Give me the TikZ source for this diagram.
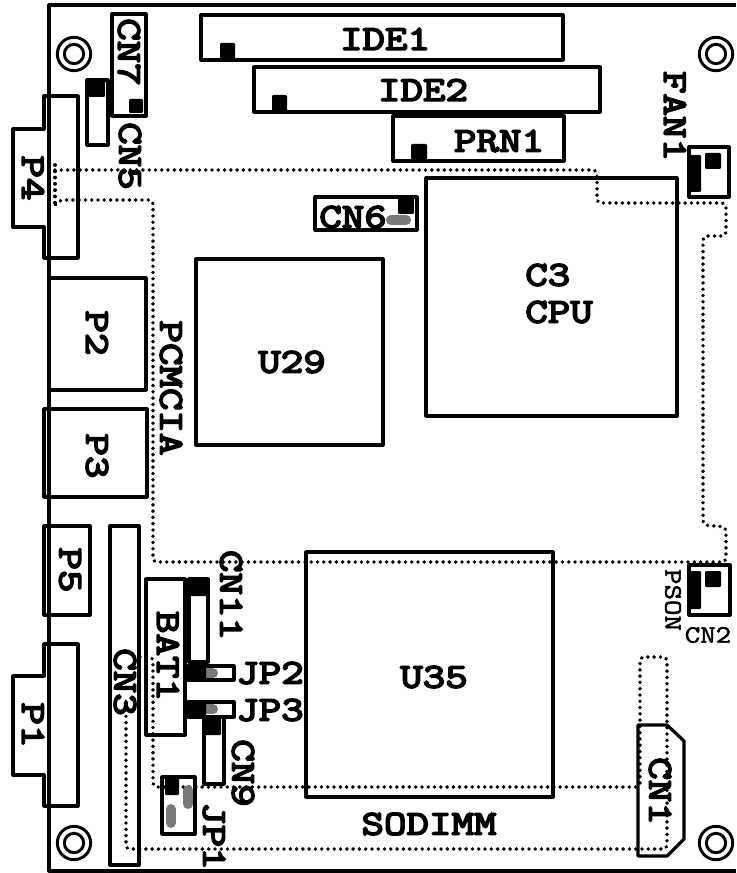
\documentclass[tikz,border=0pt]{standalone}
\usepackage{fontspec}
\newfontfamily\courb[FakeBold=5,FakeStretch=1.26]{Latin Modern Mono}
\newfontfamily\cours[FakeBold=2,FakeStretch=1.2]{Latin Modern Mono}
\tikzset{
  bx/.style={draw=black,line width=2.4pt,line join=round,fill=none},
  blk/.style={fill=black,draw=none,rounded corners=0.8pt},
  caps/.style={draw=gray!95!black,line width=7.5pt,line cap=round},
  dots/.style={draw=black,line width=2.9pt,line cap=round,dash pattern=on 0.01pt off 4.7pt,rounded corners=3pt},
  lab/.style={inner sep=0pt,font=\fontsize{26}{28}\selectfont\courb},
  labv/.style={lab,rotate=-90},
  sm/.style={inner sep=0pt,font=\fontsize{18.8}{20}\selectfont\cours},
}
\begin{document}
\begin{tikzpicture}[x=0.75pt,y=-0.75pt]
\useasboundingbox (0,0) rectangle (736,873);
% board outline
\coordinate (boardTR) at (736,5);
\coordinate (boardTL) at (49,5);
\coordinate (boardBL) at (49,871);
\coordinate (boardBR) at (736,871);
\draw[bx] (boardTR) -- (boardTL) -- (boardBL) -- (boardBR);
% mounting holes
\foreach \n/\x/\y in {a/74/54,b/716/54,c/74/843,d/716/843}{
  \node[circle,draw=black,line width=2.2pt,minimum size=25pt,inner sep=0pt] (hole\n o) at (\x,\y) {};
  \node[circle,draw=black,line width=2.2pt,minimum size=14.5pt,inner sep=0pt] (hole\n i) at (\x,\y) {};
}
% dotted outlines
\draw[dots] (55,165) -- (55,206);
\draw[dots] (55,170) -- (597,170) -- (597,203) -- (726,203) -- (726,236) -- (703,236) -- (703,525) -- (726,527) -- (726,562) -- (153,562) -- (153,200) -- (60,200) -- (55,205);
\draw[dots] (140,657) -- (153,657) -- (153,787) -- (638,787);
\draw[dots] (126,710) -- (126,849) -- (667,849) -- (667,657) -- (640,657) -- (640,787);
% connectors and chips
\draw[bx] (112,14) rectangle (146,116);
\fill[blk] (129,99) rectangle (143,113);
\draw[bx] (87,80) rectangle (108,145);
\fill[blk] (87,80) rectangle (105,97);
\draw[bx] (44,129) -- (44,96) -- (78,96) -- (78,258) -- (44,258) -- (44,227) -- (13,227) -- (13,129) -- cycle;
\draw[bx] (49,278) rectangle (146,390);
\draw[bx] (44,409) rectangle (147,497);
\draw[bx] (44,526) rectangle (90,615);
\draw[bx] (44,676) -- (44,644) -- (78,644) -- (78,806) -- (44,806) -- (44,775) -- (13,775) -- (13,676) -- cycle;
\draw[bx] (110,526) rectangle (139,865);
\draw[bx] (146,579) rectangle (185,735);
\draw[bx] (189,579) rectangle (208,662);
\fill[blk] (187,578) rectangle (209,596);
\draw[bx] (188,666) rectangle (234,680);
\draw[caps] (207,673) -- (213,673);
\fill[blk] (187,665) rectangle (206,681);
\draw[bx] (188,702) rectangle (234,717);
\draw[caps] (207,709) -- (213,709);
\fill[blk] (187,701) rectangle (206,718);
\draw[bx] (204,717) rectangle (224,784);
\fill[blk] (204,717) rectangle (221,735);
\draw[bx] (162,777) rectangle (195,834);
\fill[blk] (165,777) rectangle (179,795);
\draw[caps] (188,790) -- (188,804);
\draw[caps] (171,809) -- (171,823);
\draw[bx] (306,552) rectangle (553,797);
\draw[bx] (196,259) rectangle (383,445);
\draw[bx] (426,178) rectangle (677,416);
\draw[bx] (201,15) rectangle (563,60);
\fill[blk] (220,43) rectangle (235,60);
\draw[bx] (254,67) rectangle (600,112);
\fill[blk] (272,95) rectangle (287,112);
\draw[bx] (393,116) rectangle (564,161);
\fill[blk] (411,144) rectangle (427,161);
\draw[bx] (315,197) rectangle (417,230);
\fill[blk] (398,197) rectangle (414,214);
\draw[caps] (391,220) -- (406,220);
\draw[bx] (689,147) rectangle (729,197);
\fill[blk] (689,155) rectangle (701,192);
\fill[blk] (705,153) rectangle (721,169);
\draw[bx] (689,565) rectangle (730,615);
\fill[blk] (689,571) rectangle (701,609);
\fill[blk] (705,571) rectangle (721,587);
\draw[bx] (638,856) -- (638,725) -- (667,725) -- (684,741) -- (684,839) -- (667,856) -- cycle;
% labels
\node[labv] (tCN7) at (129,52) {CN7};
\node[labv] (tCN5) at (130,156) {CN5};
\node[labv] (tP4) at (33,178) {P4};
\node[labv] (tP2) at (97,333) {P2};
\node[labv] (tP3) at (97,456) {P3};
\node[labv] (tP5) at (70,570) {P5};
\node[labv] (tP1) at (33,725) {P1};
\node[labv] (tPCMCIA) at (171,388) {PCMCIA};
\node[labv] (tCN3) at (125,682) {CN3};
\node[labv] (tBAT1) at (168,656) {BAT1};
\node[labv] (tCN11) at (231,595) {CN11};
\node[labv] (tCN9) at (243,773) {CN9};
\node[labv] (tJP1) at (214,836) {JP1};
\node[labv] (tFAN1) at (675,116) {FAN1};
\node[labv] (tCN1) at (660,791) {CN1};
\node[lab] (tJP2) at (270,673) {JP2};
\node[lab] (tJP3) at (270,710) {JP3};
\node[lab] (tU35) at (434,677) {U35};
\node[lab] (tSOD) at (429,824) {SODIMM};
\node[lab] (tU29) at (292,362) {U29};
\node[lab,anchor=west] (tC3) at (525,275) {C3};
\node[lab,anchor=west] (tCPU) at (525,312) {CPU};
\node[lab] (tIDE1) at (385,39) {IDE1};
\node[lab] (tIDE2) at (423,90) {IDE2};
\node[lab] (tPRN1) at (499,141) {PRN1};
\node[lab,anchor=west] (tCN6) at (319,217) {CN6};
\node[sm,rotate=-90] (tPSON) at (673,600) {PSON};
\node[sm] (tCN2) at (708,635) {CN2};
\end{tikzpicture}
\end{document}
